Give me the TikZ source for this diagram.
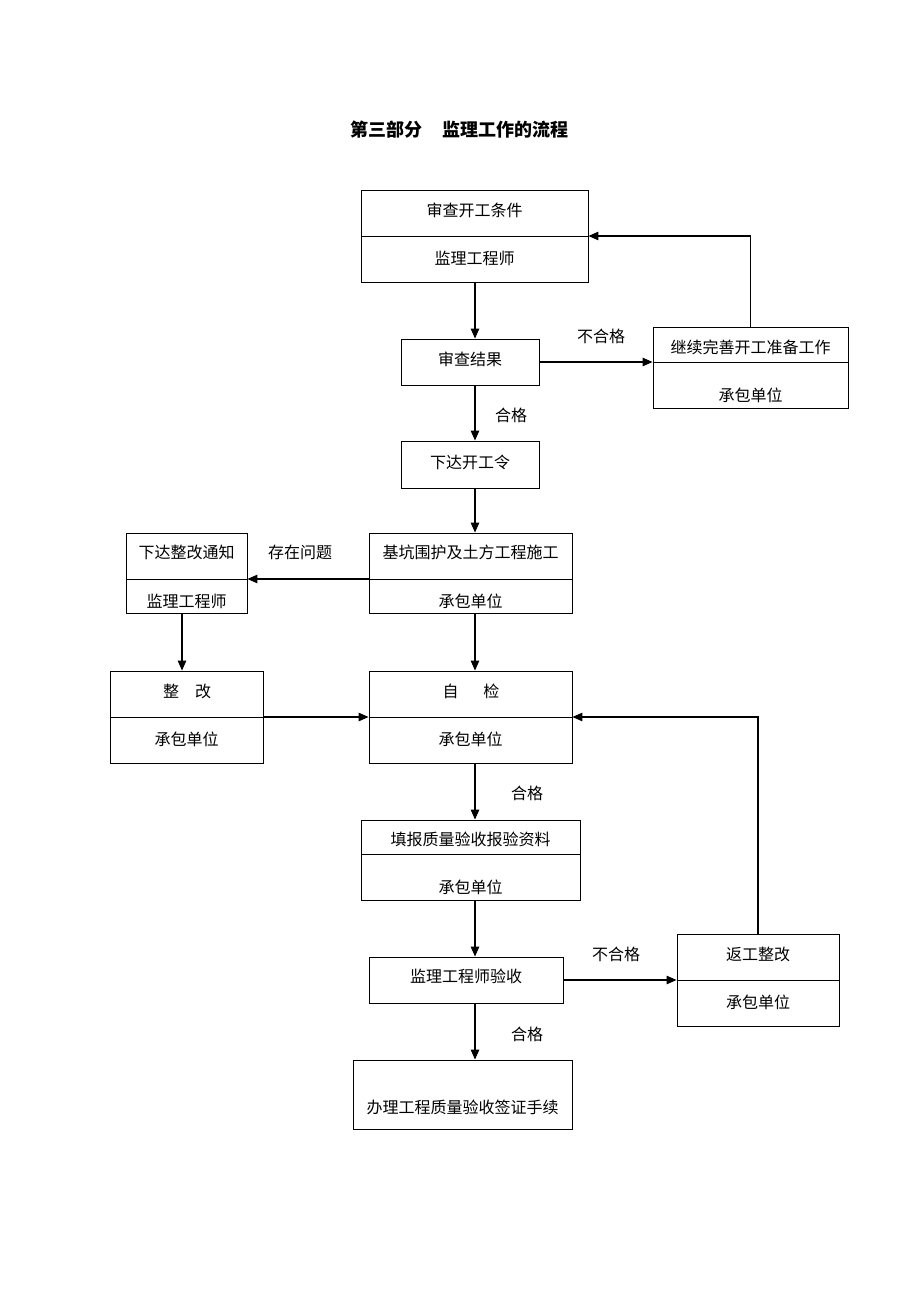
\documentclass[tikz,border=0pt]{standalone}
\usepackage{fontspec}
\setmainfont{Noto Sans CJK SC}
\usetikzlibrary{arrows.meta,calc}
\tikzset{
  box/.style={draw, line width=0.9pt, rectangle, inner sep=0pt},
  lbl/.style={inner sep=0pt, yshift=-1.5pt, font=\fontsize{16}{18}\selectfont},
  arr/.style={line width=1.2pt, -{Triangle[length=10pt,width=8.5pt]}},
  dv/.style={line width=0.9pt}
}
\begin{document}
\begin{tikzpicture}[x=1pt,y=-1pt]
\useasboundingbox (0,0) rectangle (920,1302);
\fill[white] (0,0) rectangle (920,1302);

\node[inner sep=0pt, yshift=-1pt, font=\fontsize{18}{20}\selectfont\bfseries] (title) at (459.5,129) {第三部分\hspace{20pt}监理工作的流程};

% boxes
\node[box, minimum width=227, minimum height=92] (b1) at (474.5,236) {};
\node[box, minimum width=138, minimum height=46] (b2) at (470,362) {};
\node[box, minimum width=195, minimum height=81] (b3) at (750.5,367.5) {};
\node[box, minimum width=138, minimum height=47] (b4) at (470,464.5) {};
\node[box, minimum width=203, minimum height=80] (b5) at (470.5,573) {};
\node[box, minimum width=121, minimum height=80] (b6) at (186.5,573) {};
\node[box, minimum width=153, minimum height=92] (b7) at (186.5,717) {};
\node[box, minimum width=203, minimum height=92] (b8) at (470.5,717) {};
\node[box, minimum width=219, minimum height=80] (b9) at (470.5,860) {};
\node[box, minimum width=194, minimum height=46] (b10) at (466,980) {};
\node[box, minimum width=162, minimum height=92] (b11) at (758,980) {};
\node[box, minimum width=219, minimum height=69] (b12) at (462.5,1094.5) {};

% dividers
\draw[dv] (b1.west) -- (b1.east);
\coordinate (d3) at (653,362);
\draw[dv] (d3) -- (d3 -| b3.east);
\coordinate (d5) at (369,579);
\draw[dv] (d5) -- (d5 -| b5.east);
\coordinate (d6) at (126,579);
\draw[dv] (d6) -- (d6 -| b6.east);
\draw[dv] (b7.west) -- (b7.east);
\draw[dv] (b8.west) -- (b8.east);
\coordinate (d9) at (361,854);
\draw[dv] (d9) -- (d9 -| b9.east);
\draw[dv] (b11.west) -- (b11.east);

% texts
\node[lbl] (t1a) at (474.5,209) {审查开工条件};
\node[lbl] (t1b) at (474.5,257) {监理工程师};
\node[lbl] (t2) at (470,358) {审查结果};
\node[lbl] (t3a) at (750.5,346) {继续完善开工准备工作};
\node[lbl] (t3b) at (750.5,394) {承包单位};
\node[lbl] (t4) at (470,461) {下达开工令};
\node[lbl] (t5a) at (470.5,551) {基坑围护及土方工程施工};
\node[lbl] (t5b) at (470.5,600) {承包单位};
\node[lbl] (t6a) at (186.5,551) {下达整改通知};
\node[lbl] (t6b) at (186.5,600) {监理工程师};
\node[lbl] (t7a) at (187,690) {整\hspace{16pt}改};
\node[lbl] (t7b) at (186.5,738) {承包单位};
\node[lbl] (t8a) at (471,690) {自\hspace{25pt}检};
\node[lbl] (t8b) at (470.5,738) {承包单位};
\node[lbl] (t9a) at (470.5,838) {填报质量验收报验资料};
\node[lbl] (t9b) at (470.5,886) {承包单位};
\node[lbl] (t10) at (466,975) {监理工程师验收};
\node[lbl] (t11a) at (758,953) {返工整改};
\node[lbl] (t11b) at (758,1001) {承包单位};
\node[lbl] (t12) at (462.5,1106) {办理工程质量验收签证手续};

% edge labels
\node[lbl] (l1) at (601,335) {不合格};
\node[lbl] (l2) at (511,414) {合格};
\node[lbl] (l3) at (300,551) {存在问题};
\node[lbl] (l4) at (527,792) {合格};
\node[lbl] (l5) at (616,953) {不合格};
\node[lbl] (l6) at (527,1033) {合格};

% connectors
\draw[arr] (b1.south -| 475,0) -- (b2.north -| 475,0);
\draw[arr] (b2.east) -- (b2.east -| b3.west);
\draw[arr] (b3.north) |- (b1.east);
\draw[arr] (b2.south -| 475,0) -- (b4.north -| 475,0);
\draw[arr] (b4.south -| 475,0) -- (b5.north -| 475,0);
\draw[arr] (d5) -- (d6 -| b6.east);
\draw[arr] (b6.south -| 182,0) -- (b7.north -| 182,0);
\draw[arr] (b5.south -| 475,0) -- (b8.north -| 475,0);
\draw[arr] (b7.east) -- (b8.west);
\draw[arr] (b8.south -| 475,0) -- (b9.north -| 475,0);
\draw[arr] (b9.south -| 475,0) -- (b10.north -| 475,0);
\draw[arr] (b10.east) -- (b10.east -| b11.west);
\draw[arr] (b11.north) |- (b8.east);
\draw[arr] (b10.south -| 475,0) -- (b12.north -| 475,0);
\end{tikzpicture}
\end{document}
